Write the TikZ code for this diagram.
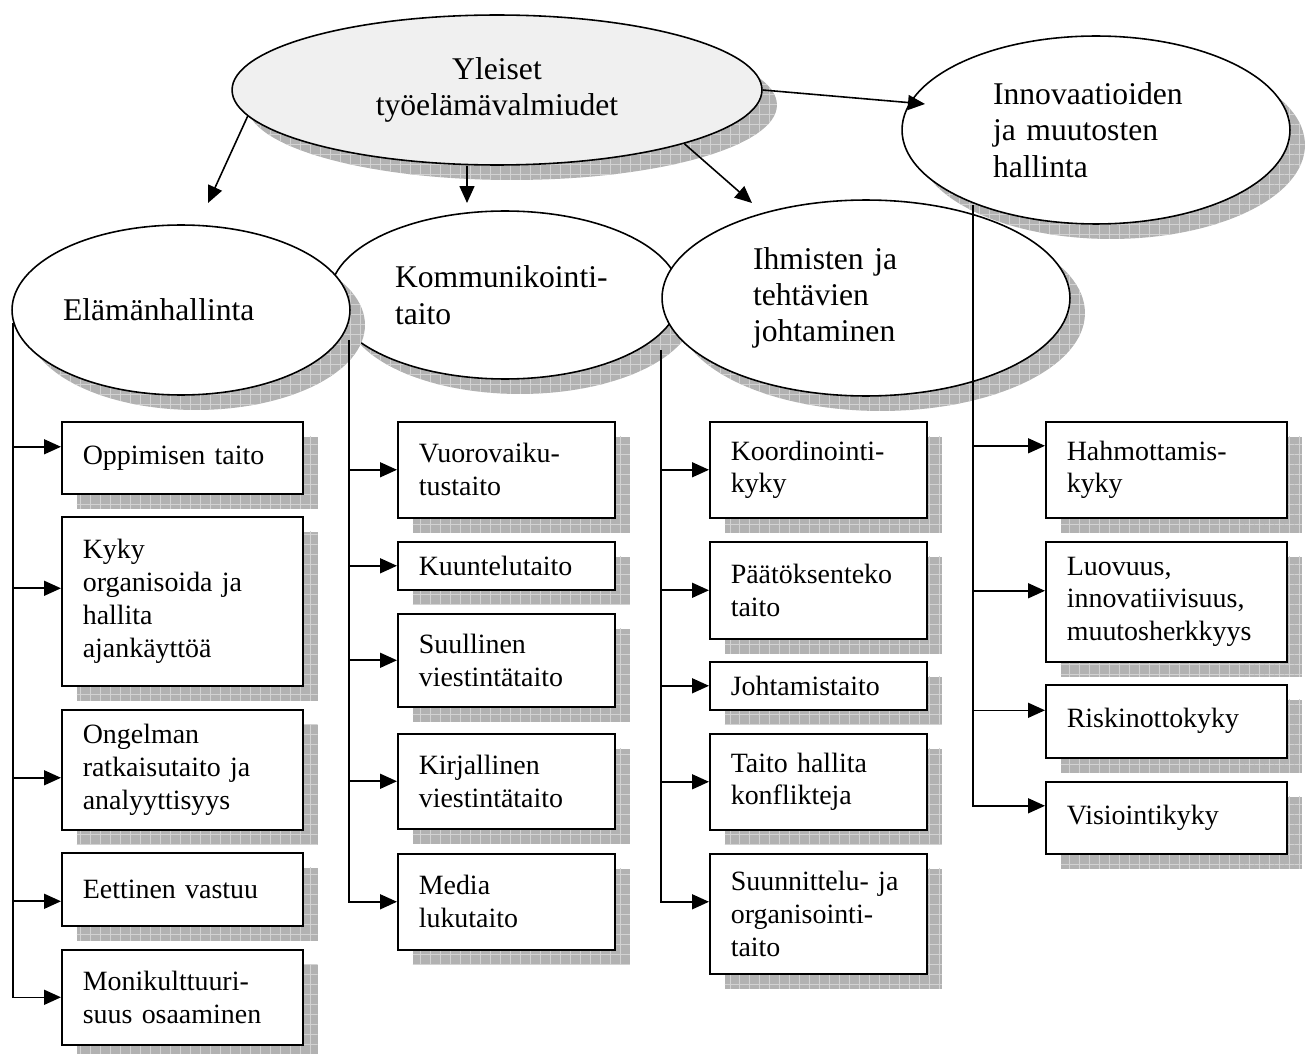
\documentclass[tikz,border=0pt]{standalone}
\usepackage{fontspec}
\setmainfont{Liberation Serif}
\usetikzlibrary{arrows.meta,shapes.geometric,shadows,patterns.meta}

\begin{document}
\begin{tikzpicture}[x=0.02cm,y=-0.02cm]
            \tikzset{grayshadow/.style = {drop shadow={shadow xshift=0.3cm,shadow yshift=-0.3cm,opacity=1,fill=gray!60},
                drop shadow={shadow xshift=0.3cm,shadow yshift=-0.3cm,opacity=1,pattern={Hatch[angle=0,distance=0.2cm,line width=0.4pt]},pattern color=gray!35}}}
            \tikzset{area/.style = {ellipse,draw,line width=0.9pt,fill=white,inner sep=0pt,grayshadow,align=left,font=\fontsize{18}{20.7}\selectfont}}
            \tikzset{skill/.style = {rectangle,draw,line width=0.9pt,fill=white,grayshadow,anchor=north west,align=left,
                inner xsep=0.42cm,inner ysep=0pt,text width=#1,font=\fontsize{15.9}{18.7}\selectfont}}
            \tikzset{edge/.style = {-{Triangle[length=0.34cm,width=0.3cm]},line width=0.9pt}}
            \useasboundingbox (0,0) rectangle (1308,1054);
            % areas
            \node[area, minimum width=7.76cm, minimum height=3.76cm, text width=4.12cm] (innov) at (1096,130) {Innovaatioiden\\ja muutosten\\hallinta};
            \node[area, minimum width=7cm, minimum height=3.36cm, text width=4.4cm] (komm) at (505,295) {Kommunikointi-\\taito};
            \node[area, minimum width=6.76cm, minimum height=3.4cm, text width=4.72cm] (elama) at (181,310) {Elämänhallinta};
            \node[area, minimum width=8.16cm, minimum height=3.92cm, text width=4.52cm] (ihmis) at (866,298) {Ihmisten ja\\tehtävien\\johtaminen};
            \node[area, fill=gray!12, minimum width=10.6cm, minimum height=3cm, align=center] (yleis) at (497,90) {Yleiset\\työelämävalmiudet};
            % skills
            \node[skill=3.98cm, minimum height=1.44cm] (c1a) at (61,421) {Oppimisen taito};
            \node[skill=3.98cm, minimum height=3.38cm] (c1b) at (61,516) {Kyky\\organisoida ja\\hallita\\ajankäyttöä};
            \node[skill=3.98cm, minimum height=2.4cm] (c1c) at (61,709) {Ongelman\\ratkaisutaito ja\\analyyttisyys};
            \node[skill=3.98cm, minimum height=1.46cm] (c1d) at (61,852) {Eettinen vastuu};
            \node[skill=3.98cm, minimum height=1.9cm] (c1e) at (61,949) {Monikulttuuri-\\suus osaaminen};
            \node[skill=3.5cm, minimum height=1.92cm] (c2a) at (397,421) {Vuorovaiku-\\tustaito};
            \node[skill=3.5cm, minimum height=0.96cm] (c2b) at (397,541) {Kuuntelutaito};
            \node[skill=3.5cm, minimum height=1.86cm] (c2c) at (397,613) {Suullinen\\viestintätaito};
            \node[skill=3.5cm, minimum height=1.9cm] (c2d) at (397,733) {Kirjallinen\\viestintätaito};
            \node[skill=3.5cm, minimum height=1.92cm] (c2e) at (397,853) {Media\\lukutaito};
            \node[skill=3.5cm, minimum height=1.92cm] (c3a) at (709,421) {Koordinointi-\\kyky};
            \node[skill=3.5cm, minimum height=1.94cm] (c3b) at (709,541) {Päätöksenteko\\taito};
            \node[skill=3.5cm, minimum height=0.96cm] (c3c) at (709,661) {Johtamistaito};
            \node[skill=3.5cm, minimum height=1.92cm] (c3d) at (709,733) {Taito hallita\\konflikteja};
            \node[skill=3.5cm, minimum height=2.4cm] (c3e) at (709,853) {Suunnittelu- ja\\organisointi-\\taito};
            \node[skill=3.98cm, minimum height=1.92cm] (c4a) at (1045,421) {Hahmottamis-\\kyky};
            \node[skill=3.98cm, minimum height=2.4cm] (c4b) at (1045,541) {Luovuus,\\innovatiivisuus,\\muutosherkkyys};
            \node[skill=3.98cm, minimum height=1.46cm] (c4c) at (1045,684) {Riskinottokyky};
            \node[skill=3.98cm, minimum height=1.44cm] (c4d) at (1045,781) {Visiointikyky};
            % branch points
            \coordinate (p1) at (208,203);
            \coordinate (p2) at (467,203);
            \coordinate (p3) at (752,203);
            \coordinate (p4) at (925,104);
            \coordinate (k1) at (13,323);
            \coordinate (k2) at (349,340);
            \coordinate (k3) at (661,350);
            \coordinate (k4) at (973,205);
            % edges
            \draw[edge] (yleis.186) -- (p1);
            \draw[edge] (p2 |- yleis.south) -- (p2);
            \draw[edge] (yleis.-16) -- (p3);
            \draw[edge] (yleis.east) -- (p4);
            \draw[edge] (k1) |- (c1e);
            \draw[edge] ([yshift=0.22cm]c1a.west -| k1) -- ([yshift=0.22cm]c1a.west);
            \draw[edge] ([yshift=0.26cm]c1b.west -| k1) -- ([yshift=0.26cm]c1b.west);
            \draw[edge] ([yshift=-0.16cm]c1c.west -| k1) -- ([yshift=-0.16cm]c1c.west);
            \draw[edge] ([yshift=-0.24cm]c1d.west -| k1) -- ([yshift=-0.24cm]c1d.west);
            \draw[edge] (k2) |- (c2e);
            \draw[edge] (c2a.west -| k2) -- (c2a.west);
            \draw[edge] (c2b.west -| k2) -- (c2b.west);
            \draw[edge] (c2c.west -| k2) -- (c2c.west);
            \draw[edge] (c2d.west -| k2) -- (c2d.west);
            \draw[edge] (k3) |- ([yshift=0.24cm]c3e.west);
            \draw[edge] (c3a.west -| k3) -- (c3a.west);
            \draw[edge] (c3b.west -| k3) -- (c3b.west);
            \draw[edge] (c3c.west -| k3) -- (c3c.west);
            \draw[edge] (c3d.west -| k3) -- (c3d.west);
            \draw[edge] (k4) |- ([yshift=0.24cm]c4d.west);
            \draw[edge] ([yshift=0.48cm]c4a.west -| k4) -- ([yshift=0.48cm]c4a.west);
            \draw[edge] ([yshift=0.22cm]c4b.west -| k4) -- ([yshift=0.22cm]c4b.west);
            \draw[edge] ([yshift=0.22cm]c4c.west -| k4) -- ([yshift=0.22cm]c4c.west);
\end{tikzpicture}
\end{document}
